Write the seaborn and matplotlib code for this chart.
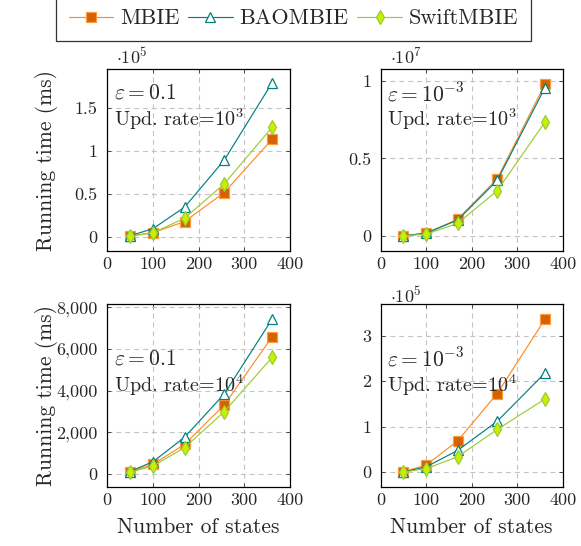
import numpy as np
import pandas as pd
import matplotlib
matplotlib.use("Agg")
import matplotlib.pyplot as plt
from matplotlib.ticker import FuncFormatter, FixedLocator
from matplotlib.lines import Line2D
import seaborn as sns

# ---------------- data ----------------
states = [49, 100, 169, 256, 361]
methods = ["MBIE", "BAOMBIE", "SwiftMBIE"]

# eps = 0.1, update rate 1e3
tl_mbie = [800, 4700, 17600, 51600, 114000]
tl_bao = [900, 9400, 34400, 89500, 180000]
tl_swift = [500, 4500, 21500, 61700, 128000]

# eps = 1e-3, update rate 1e3
tr_mbie = [20000, 170000, 1090000, 3690000, 9780000]
tr_bao = [15000, 200000, 1030000, 3580000, 9550000]
tr_swift = [10000, 130000, 820000, 2920000, 7340000]

# eps = 0.1, update rate 1e4
bl_mbie = [110, 460, 1420, 3310, 6590]
bl_bao = [110, 590, 1760, 3840, 7440]
bl_swift = [80, 380, 1260, 2990, 5600]

# eps = 1e-3, update rate 1e4
br_mbie = [1000, 16000, 69000, 173000, 336000]
br_bao = [500, 12000, 48000, 112000, 218000]
br_swift = [300, 8000, 34000, 94000, 161000]

eps_labels = [r"$\varepsilon = 0.1$", r"$\varepsilon = 10^{-3}$",
              r"$\varepsilon = 0.1$", r"$\varepsilon = 10^{-3}$"]
rate_labels = [r"Upd. rate=$10^{3}$", r"Upd. rate=$10^{3}$",
               r"Upd. rate=$10^{4}$", r"Upd. rate=$10^{4}$"]
scale_exps = [5, 7, None, 5]
y_ticks = [[0, 0.5e5, 1e5, 1.5e5], [0, 0.5e7, 1e7],
           [0, 2000, 4000, 6000, 8000], [0, 1e5, 2e5, 3e5]]
x_ticks = [0, 100, 200, 300, 400]

# ---------------- style ----------------
sns.set_theme(style="white")
plt.rcParams["font.family"] = ["cmr10", "DejaVu Serif"]
plt.rcParams["mathtext.fontset"] = "cm"
plt.rcParams["axes.formatter.use_mathtext"] = True
plt.rcParams["axes.unicode_minus"] = False

styles = {
    "MBIE": dict(color="#ff8c26", marker="s", markersize=7.8,
                 markerfacecolor="#d46200", markeredgecolor="#ff9a3c",
                 markeredgewidth=0.9),
    "BAOMBIE": dict(color="#008080", marker="^", markersize=6.6,
                    markerfacecolor="white", markeredgecolor="#008080",
                    markeredgewidth=0.9),
    "SwiftMBIE": dict(color="#9acd32", marker="d", markersize=7.4,
                      markerfacecolor="#c8f000", markeredgecolor="#9acd32",
                      markeredgewidth=0.9),
}

panels = [
    dict(vals=[tl_mbie, tl_bao, tl_swift], ylim=(-0.164e5, 1.955e5),
         pos=[0.1847, 0.5408, 0.3145, 0.3322], eps_y=0.87, rate_y=0.725, exp_y=1.069),
    dict(vals=[tr_mbie, tr_bao, tr_swift], ylim=(-0.094e7, 1.073e7),
         pos=[0.6553, 0.5408, 0.3132, 0.3322], eps_y=0.87, rate_y=0.725, exp_y=1.069),
    dict(vals=[bl_mbie, bl_bao, bl_swift], ylim=(-640, 8144),
         pos=[0.1847, 0.1075, 0.3145, 0.3352], eps_y=0.70, rate_y=0.56, exp_y=1.05),
    dict(vals=[br_mbie, br_bao, br_swift], ylim=(-0.33e5, 3.69e5),
         pos=[0.6553, 0.1075, 0.3132, 0.3352], eps_y=0.705, rate_y=0.555, exp_y=1.051),
]

fig = plt.figure(figsize=(5.81, 5.46), dpi=100)

for i, p in enumerate(panels):
    ax = fig.add_axes(p["pos"])
    ax.set_axisbelow(True)
    rows = []
    for m, v in zip(methods, p["vals"]):
        for s, y in zip(states, v):
            rows.append({"states": s, "time": y, "method": m})
    df = pd.DataFrame(rows)
    for m in methods:
        sns.lineplot(data=df[df["method"] == m], x="states", y="time", ax=ax,
                     errorbar=None, legend=False, linewidth=0.85, **styles[m])
    ax.set_xlim(0, 400)
    ax.set_ylim(*p["ylim"])
    ax.xaxis.set_major_locator(FixedLocator(x_ticks))
    ax.yaxis.set_major_locator(FixedLocator(y_ticks[i]))
    ax.xaxis.set_major_formatter(FuncFormatter(lambda v, pos: f"{v:g}"))
    exp = scale_exps[i]
    if exp is None:
        ax.yaxis.set_major_formatter(FuncFormatter(lambda v, pos: f"{v:,.0f}"))
    else:
        ax.yaxis.set_major_formatter(
            FuncFormatter(lambda v, pos, e=exp: f"{v / 10 ** e:g}"))
        ax.text(0.05, p["exp_y"], rf"$\cdot 10^{{{exp}}}$", transform=ax.transAxes,
                ha="left", va="center", fontsize=13)
    ax.grid(True, color="#c4c4c4", linestyle=(0, (4.5, 3.5)), linewidth=0.8)
    ax.tick_params(axis="both", which="major", direction="in", length=3,
                   width=0.6, color="#333333", labelsize=13,
                   top=True, right=True, bottom=True, left=True)
    ax.tick_params(axis="y", pad=7)
    ax.tick_params(axis="x", pad=4)
    for sp in ax.spines.values():
        sp.set_color("black")
        sp.set_linewidth(0.9)
    ax.text(0.035, p["eps_y"], eps_labels[i], transform=ax.transAxes,
            ha="left", va="center", fontsize=15.5)
    ax.text(0.035, p["rate_y"], rate_labels[i], transform=ax.transAxes,
            ha="left", va="center", fontsize=14.5)
    if i in (0, 2):
        ax.set_ylabel("Running time (ms)", fontsize=15.5)
        ax.yaxis.set_label_coords(-0.27, 0.5)
    else:
        ax.set_ylabel("")
    if i in (2, 3):
        ax.set_xlabel("Number of states", fontsize=15.5)
        ax.xaxis.set_label_coords(0.5, -0.165)
    else:
        ax.set_xlabel("")

handles = [Line2D([0], [0], linewidth=0.85, **styles[m]) for m in methods]
leg = fig.legend(handles, methods, loc="upper center", bbox_to_anchor=(0.505, 1.0073),
                 ncol=3, fontsize=16, frameon=True, fancybox=False,
                 edgecolor="#333333", framealpha=1, handlelength=2.0,
                 handletextpad=0.3, columnspacing=0.4, borderpad=0.58,
                 borderaxespad=0)
leg.get_frame().set_linewidth(0.9)

fig.savefig("out.png", dpi=100)
